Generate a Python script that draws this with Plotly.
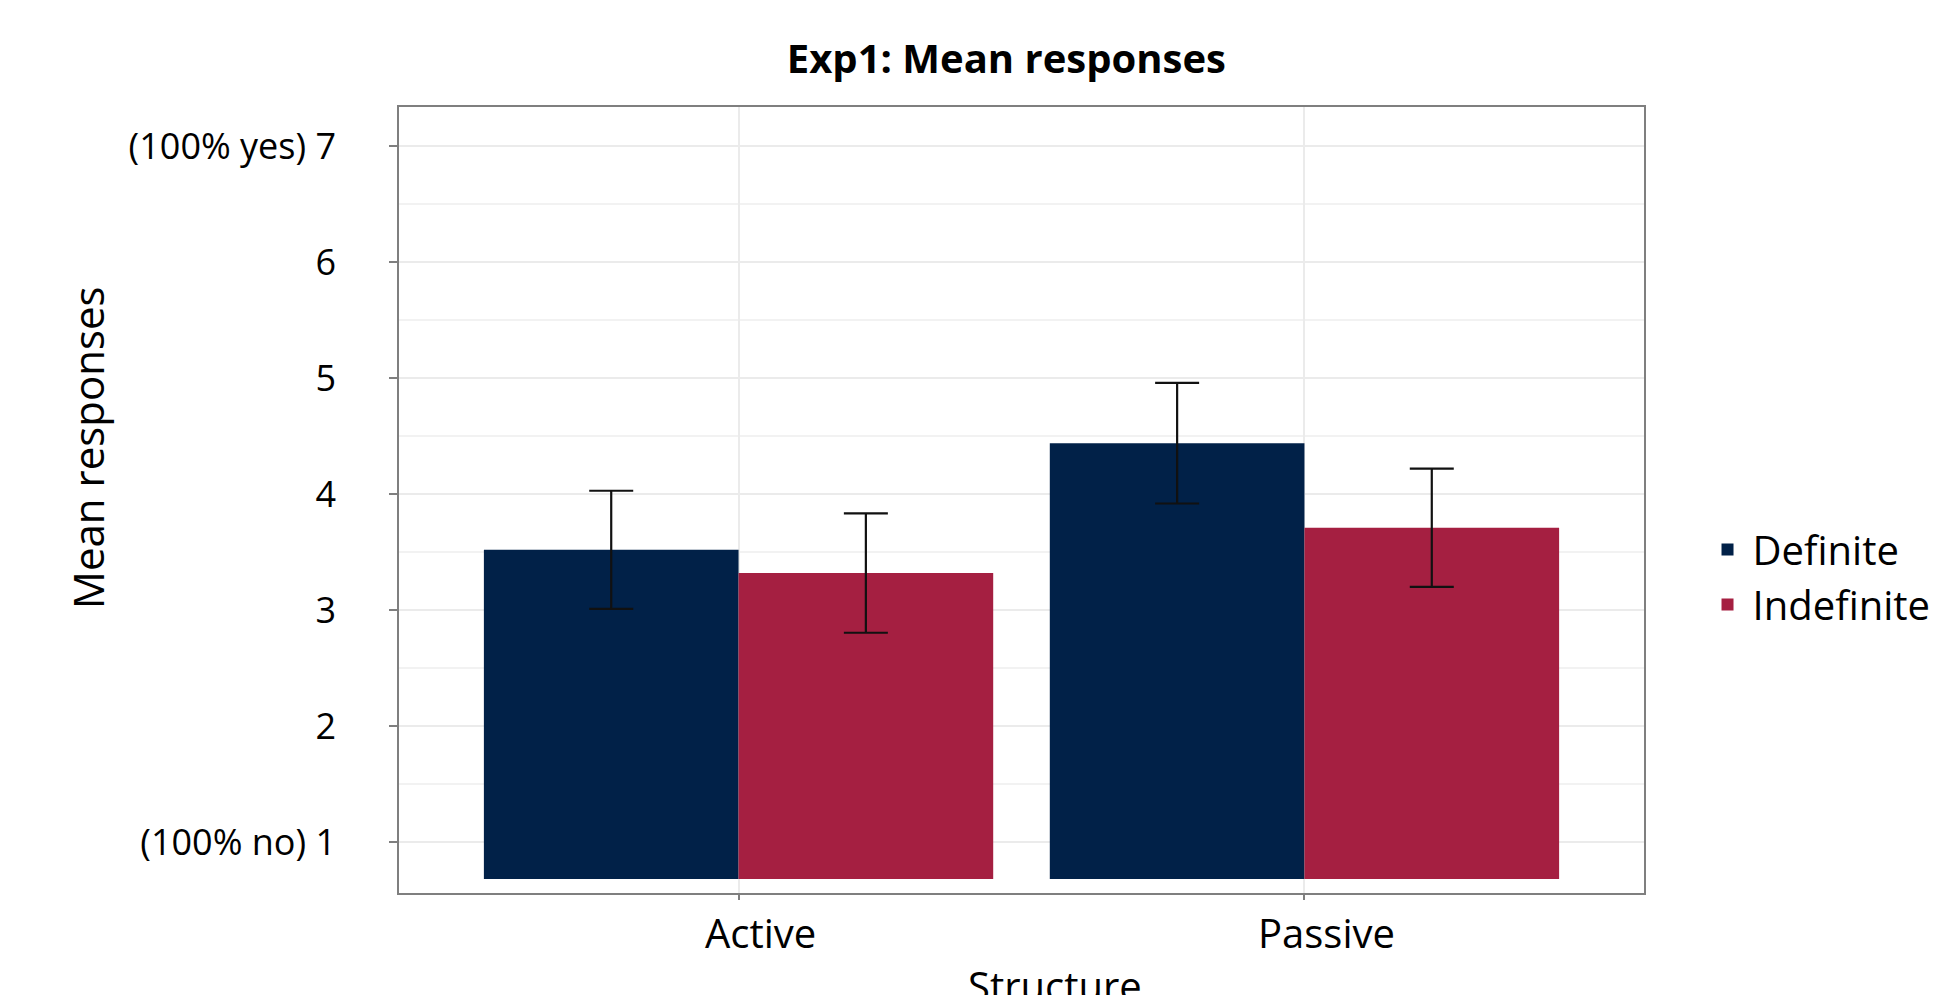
import plotly.graph_objects as go

# ---- data ----
structures = ["Active", "Passive"]
series_names = ["Definite", "Indefinite"]
definite_means = [3.52, 4.44]
definite_err = [0.51, 0.52]
indefinite_means = [3.32, 3.71]
indefinite_err = [0.515, 0.51]
y_tickvals = [1, 2, 3, 4, 5, 6, 7]
y_ticktext = ["(100% no) 1", "2", "3", "4", "5", "6", "(100% yes) 7"]
minor_vals = [1.5, 2.5, 3.5, 4.5, 5.5, 6.5]
x_title = "Structure"
y_title = "Mean responses"

# ---- style ----
colors = ["#012148", "#A51F41"]
BAR_BASE = 0.68
FONT = "Open Sans"

fig = go.Figure()
for name, means, errs, col in zip(series_names,
                                  [definite_means, indefinite_means],
                                  [definite_err, indefinite_err], colors):
    fig.add_trace(go.Bar(
        name=name, x=structures,
        y=[m - BAR_BASE for m in means], base=BAR_BASE,
        marker=dict(color=col, line=dict(width=0)),
        error_y=dict(type="data", array=errs, color="#111111",
                     thickness=2.2, width=22),
        hovertemplate=name + " %{x}<extra></extra>",
    ))

fig.update_layout(
    width=1941, height=995,
    paper_bgcolor="white", plot_bgcolor="white",
    margin=dict(l=399, r=297, t=107, b=102, autoexpand=False),
    barmode="group", bargap=0.1, bargroupgap=0,
    title=dict(text="<b>Exp1: Mean responses</b>", x=0.5185, xanchor="center",
               y=1 - 59 / 995, yanchor="middle",
               font=dict(family=FONT, size=40, color="black")),
    font=dict(family=FONT, color="black"),
    legend=dict(x=1.047, xanchor="left", y=0.402, yanchor="middle",
                font=dict(family=FONT, size=40, color="black"),
                itemwidth=40, tracegroupgap=0, bgcolor="rgba(0,0,0,0)"),
    showlegend=True,
    annotations=[
        dict(text=x_title, xref="paper", yref="paper",
             x=0.527, y=-0.08, xanchor="center", yanchor="top",
             showarrow=False,
             font=dict(family=FONT, size=40, color="black")),
        dict(text=y_title, xref="paper", yref="paper", textangle=-90,
             x=-0.2508, y=0.566, xanchor="center", yanchor="middle",
             showarrow=False,
             font=dict(family=FONT, size=42, color="black")),
    ],
)

fig.update_xaxes(
    range=[-0.6, 1.6], automargin=False,
    showline=True, linecolor="#7f7f7f", linewidth=1.5, mirror=True,
    ticks="outside", ticklen=5, tickcolor="#7f7f7f", tickwidth=1.5,
    ticklabelshift=22, ticklabelstandoff=0,
    showgrid=True, gridcolor="#ebebeb", gridwidth=2,
    tickfont=dict(family=FONT, size=40, color="black"),
)
fig.update_yaxes(
    range=[0.56, 7.34], automargin=False,
    tickvals=y_tickvals, ticktext=y_ticktext,
    showline=True, linecolor="#7f7f7f", linewidth=1.5, mirror=True,
    ticks="outside", ticklen=8, tickcolor="#7f7f7f", tickwidth=1.5,
    ticklabelstandoff=46,
    showgrid=True, gridcolor="#ebebeb", gridwidth=2,
    minor=dict(tickvals=minor_vals, showgrid=True, gridcolor="#f2f2f2",
               gridwidth=1.5, ticks=""),
    zeroline=False,
    tickfont=dict(family=FONT, size=36, color="black"),
)

fig.write_html("out.html", config={"displayModeBar": False},
               post_script="document.body.style.margin='0';")
